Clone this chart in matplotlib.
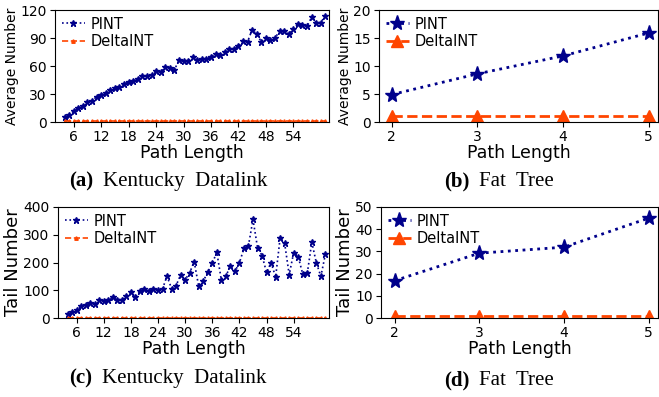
import matplotlib
matplotlib.use("Agg")
import matplotlib.pyplot as plt
from matplotlib.offsetbox import TextArea, HPacker, AnchoredOffsetbox

# ---------------- data ----------------
kd_x = list(range(4, 62))
kd_avg_pint = [5, 8, 11.5, 15, 17.5, 21, 23, 27, 29, 31, 34.5, 36, 38, 40.5, 43, 44,
               46, 49, 49, 50.5, 54.5, 53.5, 59, 58, 56, 66, 65, 65, 69.5, 66, 67, 67.5,
               70, 73, 72, 74.5, 78.5, 78, 81, 87, 86, 99, 94, 86, 90, 88, 90, 97.5, 97,
               94, 100, 104.5, 104, 103, 112, 106.5, 106.5, 114]
kd_avg_delta = [1] * len(kd_x)
kd_tail_pint = [13, 20, 30, 43, 46, 54, 50, 66, 60, 66, 74, 66, 66, 79, 92, 76, 98,
                104, 97, 105, 100, 105, 151, 106, 117, 155, 138, 163, 203, 114, 132,
                166, 197, 237, 137, 151, 187, 168, 199, 251, 261, 355, 254, 225, 164,
                200, 147, 289, 269, 156, 236, 221, 158, 161, 273, 199, 150, 230]
kd_tail_delta = [1] * len(kd_x)

ft_x = [2, 3, 4, 5]
ft_avg_pint = [4.9, 8.6, 11.8, 15.9]
ft_avg_delta = [1, 1, 1, 1]
ft_tail_pint = [16.8, 29.2, 31.9, 45]
ft_tail_delta = [1, 1, 1, 1]

kd_xticks = [6, 12, 18, 24, 30, 36, 42, 48, 54]
avg_kd_yticks = [0, 30, 60, 90, 120]
tail_kd_yticks = [0, 100, 200, 300, 400]
avg_ft_yticks = [0, 5, 10, 15, 20]
tail_ft_yticks = [0, 10, 20, 30, 40, 50]

series_names = ["PINT", "DeltaINT"]
captions = [("(a)", "Kentucky  Datalink"), ("(b)", "Fat  Tree"),
            ("(c)", "Kentucky  Datalink"), ("(d)", "Fat  Tree")]

PINT_C = "#00008B"
DELTA_C = "#FF4500"

W, H = 659, 397
fig = plt.figure(figsize=(W / 100, H / 100), dpi=100)


def rect(l, r, t, b):
    return [l / W, 1 - b / H, (r - l) / W, (b - t) / H]


axes_rects = [rect(55, 329, 10, 122), rect(379, 658, 10, 122),
              rect(58, 329, 207, 318), rect(381, 658, 207, 318)]


def draw(ax, x, p, d, big, yticks, ylabel, ylab_size, xlim, xticks):
    if big:
        ax.plot(x, p, linestyle=":", color=PINT_C, marker="*", markersize=11,
                linewidth=2, label=series_names[0])
        ax.plot(x, d, linestyle="--", color=DELTA_C, marker="^", markersize=9,
                linewidth=2, label=series_names[1])
    else:
        ax.plot(x, p, linestyle=":", color=PINT_C, marker="*", markersize=5,
                linewidth=1.2, label=series_names[0])
        ax.plot(x, d, linestyle="--", color=DELTA_C, marker="^", markersize=2.5,
                linewidth=1.2, label=series_names[1])
    ax.set_ylim(yticks[0], yticks[-1])
    ax.set_yticks(yticks)
    ax.set_xlim(*xlim)
    ax.set_xticks(xticks)
    ax.tick_params(labelsize=10, pad=2.5)
    ax.set_ylabel(ylabel, fontsize=ylab_size, labelpad=1)
    ax.set_xlabel("Path Length", fontsize=12.5, labelpad=0)
    ax.legend(loc="upper left", frameon=False, fontsize=10.5, handlelength=1.6,
              borderaxespad=0.2, borderpad=0.25, labelspacing=0.2, handletextpad=0.4)


ax = fig.add_axes(axes_rects[0])
draw(ax, kd_x, kd_avg_pint, kd_avg_delta, False, avg_kd_yticks, "Average Number", 10,
     (1.9, 61.8), kd_xticks)
ax = fig.add_axes(axes_rects[1])
draw(ax, ft_x, ft_avg_pint, ft_avg_delta, True, avg_ft_yticks, "Average Number", 10,
     (1.85, 5.11), ft_x)
ax = fig.add_axes(axes_rects[2])
draw(ax, kd_x, kd_tail_pint, kd_tail_delta, False, tail_kd_yticks, "Tail Number", 13,
     (1.9, 61.8), kd_xticks)
ax = fig.add_axes(axes_rects[3])
draw(ax, ft_x, ft_tail_pint, ft_tail_delta, True, tail_ft_yticks, "Tail Number", 13,
     (1.84, 5.11), ft_x)

cap_pos = [(168, 181), (499, 181), (168, 378), (499, 380)]
for (lab, txt), (cx, cy) in zip(captions, cap_pos):
    t1 = TextArea(lab, textprops=dict(family="Liberation Serif", weight="bold", fontsize=15))
    t2 = TextArea(txt, textprops=dict(family="Liberation Serif", fontsize=15))
    box = HPacker(children=[t1, t2], align="baseline", pad=0, sep=7)
    anch = AnchoredOffsetbox(loc="center", child=box, pad=0, borderpad=0, frameon=False,
                             bbox_to_anchor=(cx / W, 1 - cy / H),
                             bbox_transform=fig.transFigure)
    fig.add_artist(anch)

fig.savefig("out.png", dpi=100)
